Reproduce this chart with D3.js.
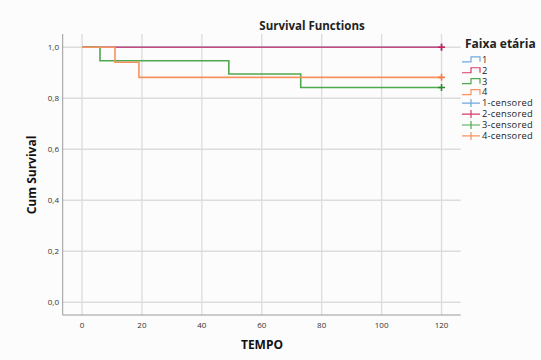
<!DOCTYPE html>
<html>
<head>
<meta charset="utf-8">
<script src="https://cdn.jsdelivr.net/npm/d3@7"></script>
<style>
  body { margin: 0; background: #fcfcfc; }
  #container { width: 541px; height: 360px; }
  text { font-family: "Open Sans", "Noto Sans", sans-serif; }
</style>
</head>
<body>
<div id="container"></div>
<script>
// Kaplan-Meier steps per age group
const groups = ["1", "2", "3", "4"];
const colors = ["#6fa8e0", "#d23c6a", "#4ea84e", "#f6925f"];
const marks = ["#5a96d8", "#d41f55", "#2f8a2f", "#f47c45"];
const times1 = [0, 120];
const surv1 = [1, 1];
const times2 = [0, 120];
const surv2 = [1, 1];
const times3 = [0, 6, 49, 73, 120];
const surv3 = [1, 0.947, 0.895, 0.842, 0.842];
const times4 = [0, 11, 19, 120];
const surv4 = [1, 0.941, 0.882, 0.882];
const censorTime = [120, 120, 120, 120];
const censorSurv = [1, 1, 0.842, 0.882];
const xTicks = [0, 20, 40, 60, 80, 100, 120];
const yTicks = [0, 0.2, 0.4, 0.6, 0.8, 1.0];

const series = [
  {key: "1", t: times1, s: surv1},
  {key: "2", t: times2, s: surv2},
  {key: "3", t: times3, s: surv3},
  {key: "4", t: times4, s: surv4}
];

const svg = d3.select("#container").append("svg")
  .attr("width", 541).attr("height", 360);

const x = d3.scaleLinear().domain([-6.45, 126.4]).range([62.7, 460.7]);
const y = d3.scaleLinear().domain([-0.05, 1.052]).range([315, 34]);

// grid
svg.append("g").selectAll("line").data(xTicks).enter().append("line")
  .attr("x1", d => x(d)).attr("x2", d => x(d))
  .attr("y1", y.range()[1]).attr("y2", y.range()[0])
  .attr("stroke", "#dcdcdc").attr("stroke-width", 1.3);
svg.append("g").selectAll("line").data(yTicks).enter().append("line")
  .attr("x1", x.range()[0]).attr("x2", x.range()[1])
  .attr("y1", d => y(d)).attr("y2", d => y(d))
  .attr("stroke", "#dcdcdc").attr("stroke-width", 1.3);

// axes lines
svg.append("line").attr("x1", x.range()[0]).attr("x2", x.range()[0])
  .attr("y1", y.range()[1]).attr("y2", y.range()[0])
  .attr("stroke", "#9a9a9a").attr("stroke-width", 1);
svg.append("line").attr("x1", x.range()[0]).attr("x2", x.range()[1])
  .attr("y1", y.range()[0]).attr("y2", y.range()[0])
  .attr("stroke", "#9a9a9a").attr("stroke-width", 1);

// tick labels
const fmt = d => d3.format(".1f")(d).replace(".", ",");
svg.append("g").selectAll("text").data(yTicks).enter().append("text")
  .attr("x", 59).attr("y", d => y(d) + 3)
  .attr("text-anchor", "end").attr("font-size", "8px").attr("fill", "#333")
  .text(fmt);
svg.append("g").selectAll("text").data(xTicks).enter().append("text")
  .attr("x", d => x(d)).attr("y", 328)
  .attr("text-anchor", "middle").attr("font-size", "8px").attr("fill", "#333")
  .text(d => d);

// titles
svg.append("text").attr("x", 312).attr("y", 30).attr("text-anchor", "middle")
  .attr("font-size", "11.5px").attr("font-weight", "bold").attr("fill", "#222")
  .text("Survival Functions");
svg.append("text").attr("x", 262).attr("y", 349).attr("text-anchor", "middle")
  .attr("font-size", "12px").attr("font-weight", "bold").attr("fill", "#111")
  .text("TEMPO");
svg.append("text").attr("transform", "translate(36,175) rotate(-90)")
  .attr("text-anchor", "middle")
  .attr("font-size", "12px").attr("font-weight", "bold").attr("fill", "#111")
  .text("Cum Survival");

// survival curves
const line = d3.line().x(d => x(d[0])).y(d => y(d[1])).curve(d3.curveStepAfter);
series.forEach((sr, i) => {
  svg.append("path")
    .datum(sr.t.map((t, j) => [t, sr.s[j]]))
    .attr("fill", "none")
    .attr("stroke", colors[i])
    .attr("stroke-width", 1.6)
    .attr("opacity", i === 1 ? 0.85 : 1)
    .attr("d", line);
});

// censored marks
groups.forEach((g, i) => {
  const cx = x(censorTime[i]), cy = y(censorSurv[i]);
  svg.append("path")
    .attr("d", `M${cx - 3.5},${cy}H${cx + 3.5}M${cx},${cy - 3.5}V${cy + 3.5}`)
    .attr("stroke", marks[i]).attr("stroke-width", 1.6);
});

// legend
const legend = svg.append("g");
legend.append("text").attr("x", 465).attr("y", 48)
  .attr("font-size", "12px").attr("font-weight", "bold").attr("fill", "#222")
  .text("Faixa etária");
const legItems = groups.map((g, i) => ({label: g, i, censored: false}))
  .concat(groups.map((g, i) => ({label: g + "-censored", i, censored: true})));
legItems.forEach((d, k) => {
  const ly = 59.3 + k * 10.95;
  if (d.censored) {
    legend.append("path")
      .attr("d", `M462,${ly}H480M471,${ly - 4}V${ly + 4}`)
      .attr("fill", "none").attr("stroke", colors[d.i]).attr("stroke-width", 1.2);
  } else {
    legend.append("path")
      .attr("d", `M462,${ly + 2.5}H471V${ly - 2.5}H480V${ly + 2.5}`)
      .attr("fill", "none").attr("stroke", colors[d.i]).attr("stroke-width", 1.2);
  }
  legend.append("text").attr("x", 482).attr("y", ly + 3.3)
    .attr("font-size", "9.3px").attr("letter-spacing", "0.25px").attr("fill", "#222")
    .text(d.label);
});
</script>
</body>
</html>
